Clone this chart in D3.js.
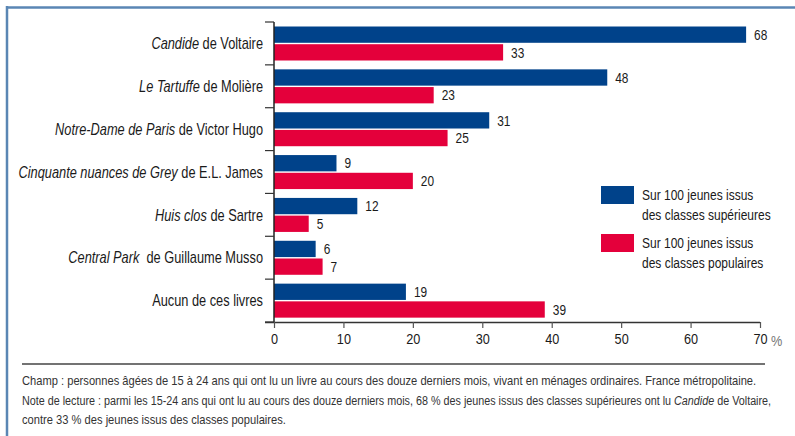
<!DOCTYPE html>
<html>
<head>
<meta charset="utf-8">
<script src="https://cdn.jsdelivr.net/npm/d3@7"></script>
<style>
  body { margin: 0; background: #fff; }
  svg text { font-family: "Liberation Sans", Arial, sans-serif; fill: #1a1a1a; }
</style>
</head>
<body>
<svg width="795" height="436"></svg>
<script>
// book titles: italic part + plain part
const titles = ["Candide", "Le Tartuffe", "Notre-Dame de Paris", "Cinquante nuances de Grey", "Huis clos", "Central Park", ""];
const authors = [" de Voltaire", " de Molière", " de Victor Hugo", " de E.L. James", " de Sartre", "  de Guillaume Musso", "Aucun de ces livres"];
const superieures = [68, 48, 31, 9, 12, 6, 19];
const populaires = [33, 23, 25, 20, 5, 7, 39];
const xTicks = [0, 10, 20, 30, 40, 50, 60, 70];
const legendLabels = [
  ["Sur 100 jeunes issus", "des classes supérieures"],
  ["Sur 100 jeunes issus", "des classes populaires"]
];
const notes = [
  [["Champ : personnes âgées de 15 à 24 ans qui ont lu un livre au cours des douze derniers mois, vivant en ménages ordinaires. France métropolitaine.", false]],
  [["Note de lecture : parmi les 15-24 ans qui ont lu au cours des douze derniers mois, 68 % des jeunes issus des classes supérieures ont lu ", false], ["Candide", true], [" de Voltaire,", false]],
  [["contre 33 % des jeunes issus des classes populaires.", false]]
];

const blue = "#00428a", red = "#e4003b";
const svg = d3.select("svg");
// the original uses a condensed face: texts are squeezed horizontally
const squeeze = 0.82;

// frame
svg.append("line").attr("x1", 6).attr("x2", 795).attr("y1", 7.5).attr("y2", 7.5)
  .attr("stroke", "#5a86b4").attr("stroke-width", 2.5);
svg.append("line").attr("x1", 7).attr("x2", 7).attr("y1", 6).attr("y2", 436)
  .attr("stroke", "#5a86b4").attr("stroke-width", 2.5);

const data = titles.map((t, i) => ({i, title: t, author: authors[i], sup: superieures[i], pop: populaires[i]}));

const x = d3.scaleLinear().domain([0, 70]).range([274, 760]);
const y = d3.scaleBand().domain(d3.range(data.length)).range([22, 322]);
const sub = d3.scaleBand().domain(["sup", "pop"]).range([4.5, 38.5]).paddingInner(0.08);

const g = svg.append("g");

// bars
const rows = g.selectAll(".row").data(data).join("g")
  .attr("class", "row")
  .attr("transform", d => `translate(0,${y(d.i)})`);

[["sup", blue], ["pop", red]].forEach(([k, c]) => {
  rows.append("rect")
    .attr("x", x(0))
    .attr("y", sub(k))
    .attr("width", d => x(d[k]) - x(0))
    .attr("height", sub.bandwidth())
    .attr("fill", c);
  rows.append("text")
    .attr("transform", d => `translate(${x(d[k]) + 8},${sub(k) + sub.bandwidth() / 2}) scale(${squeeze},1)`)
    .attr("dy", "0.36em")
    .style("font-size", "14.5px")
    .text(d => d[k]);
});

// category labels
const lab = rows.append("text")
  .attr("transform", `translate(263,${y.bandwidth() / 2}) scale(0.8,1)`)
  .attr("dy", "0.36em")
  .attr("text-anchor", "end")
  .style("font-size", "16px")
  .attr("xml:space", "preserve");
lab.append("tspan").style("font-style", "italic").text(d => d.title);
lab.append("tspan").text(d => d.author);

// y axis
const yAxis = g.append("g").attr("transform", `translate(${x(0)},0)`);
yAxis.append("line").attr("y1", 22).attr("y2", 322).attr("stroke", "#222").attr("stroke-width", 1.5);
yAxis.selectAll(".yt").data(d3.range(data.length + 1)).join("line")
  .attr("x1", -9).attr("x2", 0)
  .attr("y1", d => 22 + d * y.step()).attr("y2", d => 22 + d * y.step())
  .attr("stroke", "#333").attr("stroke-width", 1.2);

// x axis
const xAxis = g.append("g").attr("transform", "translate(0,322)")
  .call(d3.axisBottom(x).tickValues(xTicks).tickSize(6).tickPadding(5));
xAxis.attr("font-family", null).attr("font-size", null);
xAxis.select(".domain").attr("d", `M265,0.5H${x(70)}`).attr("stroke", "#333").attr("stroke-width", 1.5);
xAxis.selectAll(".tick line").attr("stroke", "#555").attr("stroke-width", 1.2);
xAxis.selectAll(".tick text")
  .attr("transform", `scale(${squeeze},1)`)
  .style("font-size", "15.5px").attr("fill", "#1a1a1a");
svg.append("text").attr("transform", `translate(${x(70) + 11},346) scale(${squeeze},1)`)
  .style("font-size", "15.5px").style("fill", "#777").text("%");

// legend
const leg = svg.selectAll(".leg").data(legendLabels).join("g")
  .attr("class", "leg")
  .attr("transform", (d, i) => `translate(601,${186 + i * 48})`);
leg.append("rect").attr("width", 33).attr("height", 18).attr("fill", (d, i) => [blue, red][i]);
leg.selectAll("text").data(d => d).join("text")
  .attr("transform", (d, i) => `translate(41,${14 + i * 20}) scale(0.8,1)`)
  .style("font-size", "15px")
  .text(d => d);

// separator + notes
svg.append("line").attr("x1", 22).attr("x2", 765).attr("y1", 364).attr("y2", 364)
  .attr("stroke", "#444").attr("stroke-width", 1.5);
const note = svg.selectAll(".note").data(notes).join("text")
  .attr("class", "note")
  .style("font-size", "13.5px").style("fill", "#333")
  .attr("xml:space", "preserve");
note.selectAll("tspan").data(d => d).join("tspan")
  .style("font-style", d => d[1] ? "italic" : null)
  .text(d => d[0]);
// squeeze each line, narrower still if it would run past the right edge
note.attr("transform", function(d, i) {
  const w = this.getComputedTextLength();
  const k = Math.min(0.826, 750 / w);
  return `translate(22,${385 + i * 19.5}) scale(${k},1)`;
});
</script>
</body>
</html>
